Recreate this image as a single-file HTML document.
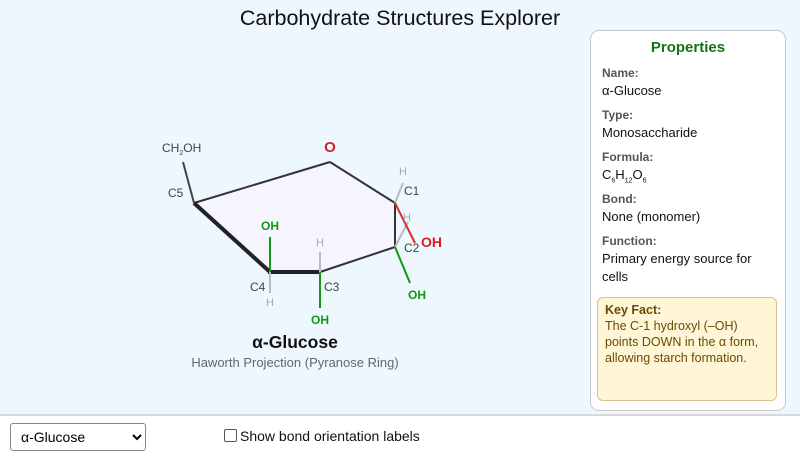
<!DOCTYPE html>
<html><head><meta charset="utf-8"><style>
body{margin:0;width:800px;height:462px;overflow:hidden;font-family:"Liberation Sans",Arial,sans-serif;background:#fff;position:relative}
.top{position:absolute;left:0;top:0;width:800px;height:414px;background:#eef6fe;border-bottom:2px solid #d8d8d8}
h1{position:absolute;top:6px;left:0;width:800px;text-align:center;margin:0;font-weight:normal;font-size:21.5px;color:#111}
.panel{position:absolute;left:590px;top:30px;width:196px;height:381px;background:#fff;border:1px solid #c8c8c8;border-radius:9px;box-sizing:border-box}
.panel div{position:absolute;left:11px;white-space:nowrap}
.panel .t{color:#177317;font-weight:bold;font-size:15px;left:0;width:194px;text-align:center;top:8px}
.k{font-weight:bold;color:#555;font-size:12px}
.v{font-size:13px;color:#111}
.panel .fact{left:6px;top:266px;width:180px;height:104px;background:#fff6d8;border:1px solid #d8c48a;border-radius:6px;box-sizing:border-box;padding:4px 7px;font-size:12.5px;color:#6a4a00;line-height:16px;white-space:normal}
.bar select{position:absolute;left:10px;top:423px;width:136px;height:28px;font-size:14px;border:1px solid #888;border-radius:3px;background:#fff;padding-left:6px;font-family:"Liberation Sans",sans-serif}
.cb{position:absolute;left:224px;top:428px;font-size:14px;color:#111}
.cb span{display:inline-block;width:11px;height:11px;border:1px solid #555;border-radius:2px;vertical-align:-1px;margin-right:3px;background:#fff}
</style></head><body>
<div class="top"></div>
<h1>Carbohydrate Structures Explorer</h1>
<svg width="590" height="410" style="position:absolute;left:0;top:0" font-family="Liberation Sans,Arial,sans-serif">
<polygon points="194,203 330,162 395,203 395,247 320,272 270,272" fill="#f5f5ff" stroke="none"/>
<g stroke="#333" stroke-width="2" fill="none">
<line x1="194" y1="203" x2="330" y2="162"/><line x1="330" y1="162" x2="395" y2="203"/>
<line x1="395" y1="203" x2="395" y2="247"/><line x1="395" y1="247" x2="320" y2="272"/>
<line x1="194" y1="203" x2="183" y2="162" stroke="#444"/>
</g>
<line x1="194" y1="203" x2="270" y2="272" stroke="#222" stroke-width="4"/>
<line x1="268" y1="272" x2="321" y2="272" stroke="#222" stroke-width="4"/>
<g stroke="#bbb" stroke-width="2"><line x1="395" y1="203" x2="403" y2="183"/><line x1="395" y1="247" x2="408" y2="222"/><line x1="320" y1="272" x2="320" y2="252"/><line x1="270" y1="272" x2="270" y2="293"/></g>
<line x1="395" y1="203" x2="415" y2="243" stroke="#d63030" stroke-width="2"/>
<g stroke="#119911" stroke-width="2"><line x1="395" y1="247" x2="410" y2="283"/><line x1="320" y1="272" x2="320" y2="308"/><line x1="270" y1="272" x2="270" y2="237"/></g>
<g font-size="11" fill="#aaa" text-anchor="middle"><text x="403" y="175">H</text><text x="407" y="221">H</text><text x="320" y="246">H</text><text x="270" y="306">H</text></g>
<g font-size="12" fill="#444"><text x="168" y="197">C5</text><text x="404" y="195">C1</text><text x="404" y="252">C2</text><text x="324" y="291">C3</text><text x="250" y="291">C4</text>
<text x="162" y="152">CH<tspan font-size="7" dy="3">2</tspan><tspan dy="-3">OH</tspan></text></g>
<text x="330" y="152" font-size="15" font-weight="bold" fill="#d62020" text-anchor="middle">O</text>
<text x="421" y="247" font-size="14" font-weight="bold" fill="#d62020">OH</text>
<g font-size="12" font-weight="bold" fill="#119911" text-anchor="middle"><text x="270" y="230">OH</text><text x="417" y="299">OH</text><text x="320" y="324">OH</text></g>
<text x="295" y="348" font-size="17.5" font-weight="bold" fill="#111" text-anchor="middle">α-Glucose</text>
<text x="295" y="367" font-size="13" fill="#666" text-anchor="middle">Haworth Projection (Pyranose Ring)</text>
</svg>
<div class="panel">
<div class="t">Properties</div>
<div class="k" style="top:35px">Name:</div><div class="v" style="top:52px">α-Glucose</div>
<div class="k" style="top:77px">Type:</div><div class="v" style="top:94px">Monosaccharide</div>
<div class="k" style="top:119px">Formula:</div><div class="v" style="top:136px">C<sub style="font-size:7px">6</sub>H<sub style="font-size:7px">12</sub>O<sub style="font-size:7px">6</sub></div>
<div class="k" style="top:161px">Bond:</div><div class="v" style="top:178px">None (monomer)</div>
<div class="k" style="top:203px">Function:</div><div class="v" style="top:220px">Primary energy source for</div><div class="v" style="top:238px">cells</div>
<div class="fact"><b>Key Fact:</b><br>The C-1 hydroxyl (–OH) points DOWN in the α form, allowing starch formation.</div>
</div>
<div class="bar"><select><option>α-Glucose</option></select></div>
<div class="cb"><span></span>Show bond orientation labels</div>
</body></html>
